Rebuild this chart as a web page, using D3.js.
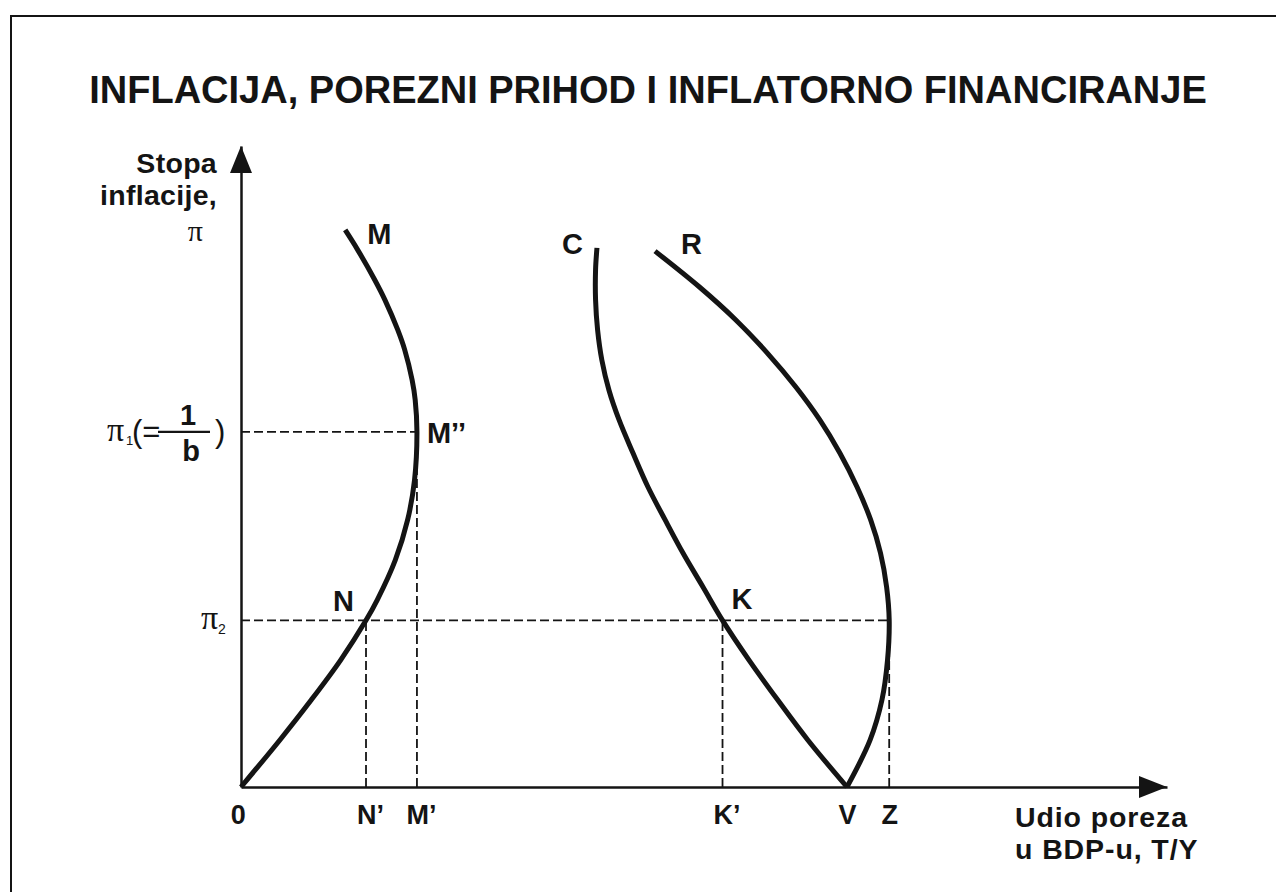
<!DOCTYPE html>
<html>
<head>
<meta charset="utf-8">
<script src="https://cdn.jsdelivr.net/npm/d3@7"></script>
<style>
  body { margin: 0; background: #fff; }
  svg text { font-family: "Liberation Sans", Arial, Helvetica, sans-serif; fill: #141414; }
  .serif { font-family: "Liberation Serif", "Times New Roman", serif !important; }
</style>
</head>
<body>
<script>
var width = 1276, height = 892;

// x = udio poreza u BDP-u (T/Y), y = stopa inflacije (pi), in arbitrary units
var curveM = [[1.125, 8.69], [1.26, 8.38], [1.445, 7.91], [1.554, 7.60], [1.693, 7.13], [1.768, 6.82],
              [1.848, 6.35], [1.881, 6.04], [1.90, 5.54], [1.874, 4.79], [1.80, 4.17], [1.666, 3.54],
              [1.472, 2.92], [1.35, 2.60], [1.076, 1.98], [0.76, 1.36], [0.418, 0.73], [0, 0]];
var curveC = [[3.844, 8.41], [3.829, 8.07], [3.829, 7.60], [3.851, 7.13], [3.897, 6.66], [3.974, 6.19],
              [4.082, 5.73], [4.233, 5.21], [4.395, 4.68], [4.579, 4.17], [4.773, 3.65], [4.989, 3.12],
              [5.20, 2.60], [5.486, 1.98], [5.795, 1.36], [6.123, 0.73], [6.544, 0]];
var curveR = [[4.471, 8.36], [4.951, 7.80], [5.341, 7.29], [5.684, 6.77], [5.992, 6.24], [6.249, 5.73],
              [6.467, 5.21], [6.653, 4.68], [6.799, 4.17], [6.906, 3.65], [6.972, 3.12], [7.0, 2.60],
              [6.982, 1.98], [6.922, 1.36], [6.793, 0.73], [6.544, 0]];

var piLevels = [5.54, 2.60];                       // pi1 (=1/b), pi2
var xMarks = [0, 1.35, 1.90, 5.20, 6.544, 7.0];
var xMarkLabels = ["0", "N\u2019", "M\u2019", "K\u2019", "V", "Z"];
var axisMax = 10;

var titleText = "INFLACIJA, POREZNI PRIHOD I INFLATORNO FINANCIRANJE";
var yLabel = ["Stopa", "inflacije,"];
var xLabel = ["Udio poreza", "u BDP-u, T/Y"];

var x = d3.scaleLinear().domain([0, axisMax]).range([241, 1167]);
var y = d3.scaleLinear().domain([0, axisMax]).range([787, 146]);

var svg = d3.select("body").append("svg")
    .attr("width", width)
    .attr("height", height);

// frame (only top and left edges are visible)
svg.append("path")
    .attr("d", "M11,892V16H1276")
    .attr("fill", "none")
    .attr("stroke", "#141414")
    .attr("stroke-width", 2);

svg.append("text")
    .attr("x", 648)
    .attr("y", 103)
    .attr("text-anchor", "middle")
    .attr("font-size", 38)
    .attr("font-weight", "bold")
    .text(titleText);

// dashed guide lines
var guides = [
  [[0, piLevels[0]], [xMarks[2], piLevels[0]]],
  [[0, piLevels[1]], [xMarks[5], piLevels[1]]],
  [[xMarks[1], 0], [xMarks[1], piLevels[1]]],
  [[xMarks[2], 0], [xMarks[2], piLevels[0]]],
  [[xMarks[3], 0], [xMarks[3], piLevels[1]]],
  [[xMarks[5], 0], [xMarks[5], piLevels[1]]]
];
svg.selectAll(".guide")
  .data(guides)
  .enter()
  .append("line")
    .attr("class", "guide")
    .attr("x1", function(d){return x(d[0][0])})
    .attr("y1", function(d){return y(d[0][1])})
    .attr("x2", function(d){return x(d[1][0])})
    .attr("y2", function(d){return y(d[1][1])})
    .attr("stroke", "#141414")
    .attr("stroke-width", 1.8)
    .attr("stroke-dasharray", "9,4");

// axes, no ticks, only letter labels
var x_axis = d3.axisBottom(x)
    .tickValues(xMarks)
    .tickFormat(function(d, i){return xMarkLabels[i]})
    .tickSize(0)
    .tickSizeOuter(0)
    .tickPadding(18);
var y_axis = d3.axisLeft(y).tickValues([]).tickSizeOuter(0);

var gx = svg.append("g")
    .attr("class", "x axis")
    .attr("transform", "translate(0," + y(0) + ")")
  .call(x_axis);
svg.append("g")
    .attr("class", "y axis")
    .attr("transform", "translate(" + x(0) + ",0)")
  .call(y_axis);

svg.selectAll(".axis .domain")
    .attr("stroke", "#141414")
    .attr("stroke-width", 2.5);
gx.selectAll("text")
    .attr("font-size", 27)
    .attr("font-weight", "bold")
    .attr("font-family", null)
    .attr("fill", "#141414")
    .attr("dx", function(d, i){return xMarkLabels[i].length > 1 ? "0.15em" : (i == 0 ? "-0.12em" : 0)});

// arrow heads
svg.append("path")
    .attr("d", "M" + x(0) + "," + y(axisMax) + "L" + (x(0) - 11) + "," + (y(axisMax) + 27) +
               "L" + (x(0) + 11) + "," + (y(axisMax) + 27) + "Z")
    .attr("fill", "#141414");
svg.append("path")
    .attr("d", "M" + x(axisMax) + "," + y(0) + "L" + (x(axisMax) - 28) + "," + (y(0) - 11) +
               "L" + (x(axisMax) - 28) + "," + (y(0) + 11) + "Z")
    .attr("fill", "#141414");

// curves
var line = d3.line()
    .x(function(d){return x(d[0])})
    .y(function(d){return y(d[1])})
    .curve(d3.curveCatmullRom.alpha(0.5));

svg.selectAll(".curve")
  .data([curveM, curveC, curveR])
  .enter()
  .append("path")
    .attr("class", "curve")
    .attr("d", line)
    .attr("fill", "none")
    .attr("stroke", "#141414")
    .attr("stroke-width", 5);

// curve labels, placed next to points of the curves
var pointLabels = [
  {text: "M", at: curveM[0], dx: 22, dy: 14},
  {text: "C", at: curveC[0], dx: -35, dy: 6},
  {text: "R", at: curveR[0], dx: 26, dy: 3},
  {text: "M\u2019\u2019", at: [xMarks[2], piLevels[0]], dx: 10, dy: 11},
  {text: "N", at: [xMarks[1], piLevels[1]], dx: -33, dy: -9},
  {text: "K", at: [xMarks[3], piLevels[1]], dx: 9, dy: -11}
];
svg.selectAll(".plabel")
  .data(pointLabels)
  .enter()
  .append("text")
    .attr("class", "plabel")
    .attr("x", function(d){return x(d.at[0]) + d.dx})
    .attr("y", function(d){return y(d.at[1]) + d.dy})
    .attr("font-size", 29)
    .attr("font-weight", "bold")
    .text(function(d){return d.text});

// axis titles
svg.selectAll(".ylab")
  .data(yLabel)
  .enter()
  .append("text")
    .attr("x", 217)
    .attr("y", function(d, i){return 173 + i * 32})
    .attr("text-anchor", "end")
    .attr("font-size", 28.5)
    .attr("font-weight", "bold")
    .attr("letter-spacing", 0.3)
    .text(function(d){return d});
svg.append("text")
    .attr("class", "serif")
    .attr("x", 203)
    .attr("y", 241)
    .attr("text-anchor", "end")
    .attr("font-size", 30)
    .text("\u03c0");

svg.selectAll(".xlab")
  .data(xLabel)
  .enter()
  .append("text")
    .attr("x", 1015)
    .attr("y", function(d, i){return 827 + i * 32})
    .attr("font-size", 28.5)
    .attr("font-weight", "bold")
    .attr("letter-spacing", 0.9)
    .text(function(d){return d});

// pi1 (= 1/b) label
var p1 = y(piLevels[0]);
svg.append("text").attr("class", "serif")
    .attr("x", 107).attr("y", p1 + 9).attr("font-size", 34).text("\u03c0");
svg.append("text")
    .attr("x", 126).attr("y", p1 + 13).attr("font-size", 13).text("1");
svg.append("text")
    .attr("x", 132).attr("y", p1 + 10).attr("font-size", 31).text("(=");
svg.append("line")
    .attr("x1", 158).attr("x2", 210).attr("y1", p1).attr("y2", p1)
    .attr("stroke", "#141414").attr("stroke-width", 2.4);
svg.append("text")
    .attr("x", 188).attr("y", p1 - 7).attr("text-anchor", "middle")
    .attr("font-size", 29).attr("font-weight", "bold").text("1");
svg.append("text")
    .attr("x", 191).attr("y", p1 + 29).attr("text-anchor", "middle")
    .attr("font-size", 29).attr("font-weight", "bold").text("b");
svg.append("text")
    .attr("x", 215).attr("y", p1 + 10).attr("font-size", 31).text(")");

// pi2 label
var p2 = y(piLevels[1]);
svg.append("text").attr("class", "serif")
    .attr("x", 201).attr("y", p2 + 9).attr("font-size", 34).text("\u03c0");
svg.append("text")
    .attr("x", 218).attr("y", p2 + 14).attr("font-size", 14).text("2");
</script>
</body>
</html>
